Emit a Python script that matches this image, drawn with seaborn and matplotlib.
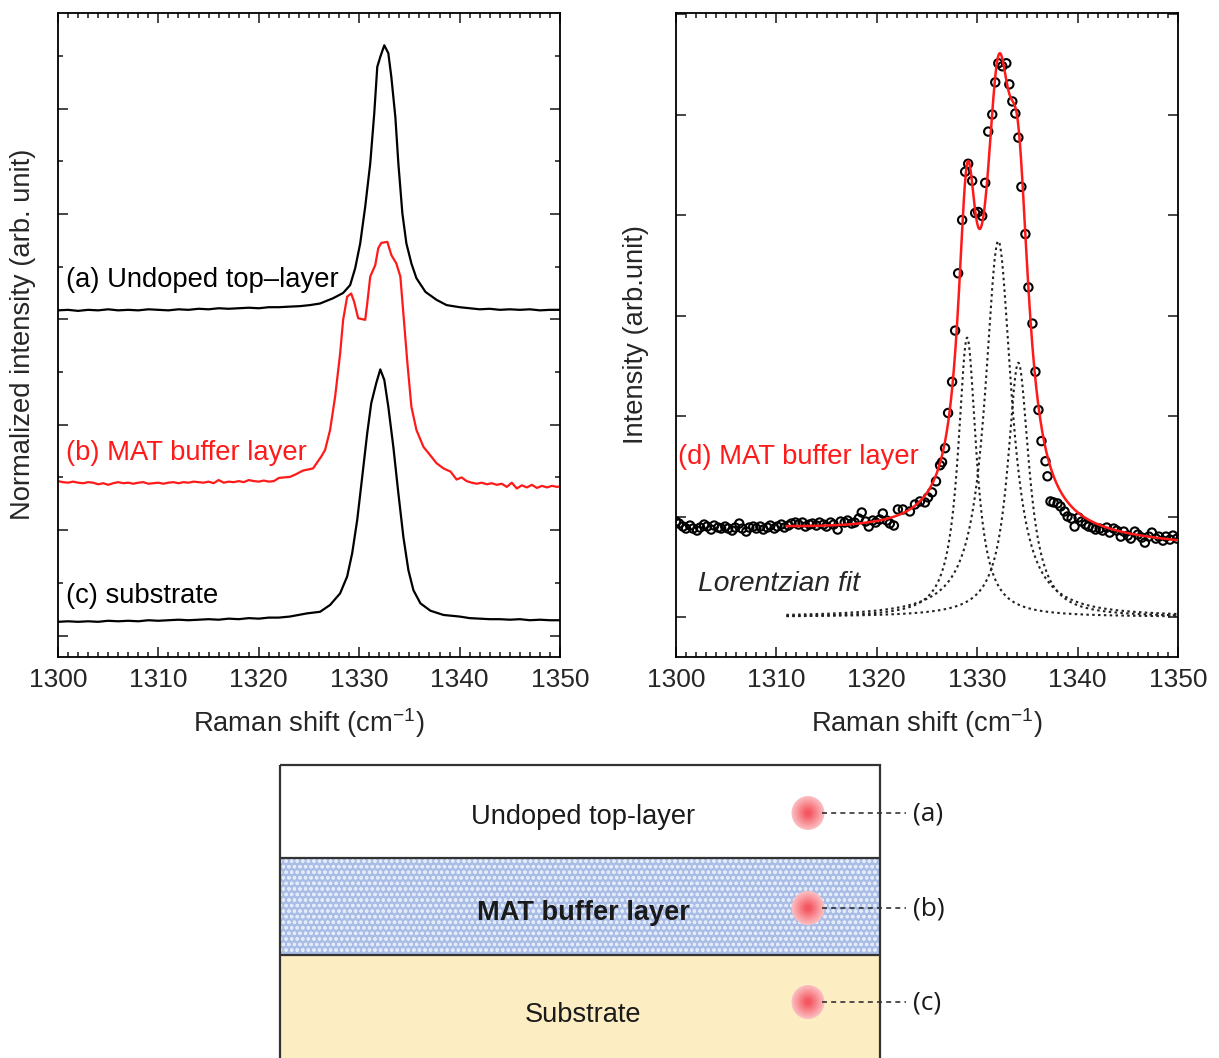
import numpy as np
import pandas as pd
import matplotlib.pyplot as plt
import matplotlib.patches as mpatches
from matplotlib.ticker import MultipleLocator, NullFormatter
import seaborn as sns

# ---- left panel: normalized spectra (a), (b), (c), offset vertically ----
a_x = [1300, 1301, 1302, 1303, 1304, 1305, 1306, 1307, 1308, 1309, 1310, 1311, 1312, 1313,
       1314, 1315, 1316, 1317, 1318, 1319, 1320, 1321, 1322, 1323, 1324.1, 1325.1, 1326.1,
       1327.4, 1328.4, 1329.1, 1329.6, 1330.1, 1330.6, 1331.1, 1331.5, 1331.8, 1332.1, 1332.5,
       1332.9, 1333.2, 1333.6, 1333.9, 1334.3, 1334.7, 1335.2, 1335.7, 1336.6, 1337.7, 1338.7,
       1340, 1341, 1342, 1343, 1344, 1345, 1346, 1347, 1348, 1349, 1350]
a_y = [6.17, 6.18, 6.16, 6.18, 6.17, 6.19, 6.17, 6.18, 6.17, 6.19, 6.18, 6.17, 6.19, 6.18,
       6.20, 6.19, 6.21, 6.20, 6.21, 6.22, 6.21, 6.23, 6.23, 6.24, 6.25, 6.27, 6.30,
       6.40, 6.50, 6.65, 6.97, 7.44, 8.14, 8.96, 9.91, 10.79, 10.98, 11.20,
       11.05, 10.60, 9.84, 8.96, 8.01, 7.44, 7.06, 6.78, 6.52, 6.37, 6.27,
       6.23, 6.21, 6.19, 6.20, 6.18, 6.19, 6.18, 6.19, 6.17, 6.18, 6.18]

b_x = [1300.0, 1300.5, 1301.0, 1301.5, 1302.0, 1302.5, 1303.0, 1303.5, 1304.0, 1304.5,
       1305.0, 1305.5, 1306.0, 1306.5, 1307.0, 1307.5, 1308.0, 1308.5, 1309.0, 1309.5,
       1310.0, 1310.5, 1311.0, 1311.5, 1312.0, 1312.5, 1313.0, 1313.5, 1314.0, 1314.5,
       1315.0, 1315.5, 1316.0, 1316.5, 1317.0, 1317.5, 1318.0, 1318.5, 1319.0, 1319.5,
       1320.0, 1320.5, 1321.0, 1321.5, 1322.0, 1322.5, 1323.1, 1323.7, 1324.4, 1325.4,
       1326.2, 1326.6, 1327.1, 1327.6, 1328.1, 1328.4, 1328.8, 1329.2, 1329.5, 1329.9,
       1330.6, 1330.8, 1331.1, 1331.6, 1331.9, 1332.2, 1332.8, 1333.2, 1333.7, 1334.1,
       1334.4, 1334.8, 1335.2, 1335.7, 1336.4, 1337.2, 1337.7, 1338.4, 1339.1, 1339.7,
       1340.2, 1340.7, 1341.2, 1341.7, 1342.2, 1342.7, 1343.2, 1343.7, 1344.2, 1344.7,
       1345.2, 1345.7, 1346.2, 1346.7, 1347.2, 1347.7, 1348.2, 1348.7, 1349.2, 1349.7, 1350.0]
b_y = [2.93, 2.91, 2.90, 2.92, 2.90, 2.89, 2.91, 2.90, 2.87, 2.89,
       2.86, 2.89, 2.91, 2.89, 2.90, 2.88, 2.90, 2.91, 2.88, 2.89,
       2.90, 2.88, 2.90, 2.91, 2.89, 2.91, 2.90, 2.92, 2.91, 2.90,
       2.92, 2.89, 2.95, 2.90, 2.92, 2.91, 2.93, 2.91, 2.95, 2.93,
       2.92, 2.94, 2.92, 2.93, 2.99, 3.00, 3.01, 3.06, 3.13, 3.17,
       3.39, 3.52, 3.90, 4.53, 5.35, 5.99, 6.43, 6.49, 6.33, 6.02,
       5.99, 6.30, 6.81, 7.03, 7.35, 7.45, 7.47, 7.22, 7.06, 6.81,
       6.11, 5.17, 4.34, 3.90, 3.58, 3.39, 3.27, 3.17, 3.11, 2.96,
       3.00, 2.93, 2.90, 2.88, 2.90, 2.87, 2.89, 2.86, 2.88, 2.82,
       2.90, 2.79, 2.85, 2.81, 2.86, 2.80, 2.84, 2.81, 2.84, 2.82, 2.83]

c_x = [1300, 1301, 1302, 1303, 1304, 1305, 1306, 1307, 1308, 1309, 1310, 1311, 1312, 1313,
       1314, 1315, 1316, 1317, 1318, 1319, 1320, 1321, 1322, 1323.1, 1324.8, 1326.1, 1327.1,
       1328.1, 1328.8, 1329.3, 1329.8, 1330.3, 1330.8, 1331.2, 1331.7, 1332.1, 1332.5, 1332.9,
       1333.4, 1333.9, 1334.4, 1334.9, 1335.4, 1336.1, 1337.1, 1338.4, 1340, 1341, 1342, 1343,
       1344, 1345, 1346, 1347, 1348, 1349, 1350]
c_y = [0.26, 0.27, 0.26, 0.27, 0.26, 0.28, 0.27, 0.28, 0.27, 0.29, 0.28, 0.29, 0.30, 0.29,
       0.30, 0.31, 0.30, 0.32, 0.31, 0.33, 0.32, 0.34, 0.34, 0.36, 0.42, 0.45, 0.58,
       0.80, 1.12, 1.56, 2.19, 3.01, 3.84, 4.41, 4.79, 5.05, 4.85, 4.34,
       3.58, 2.70, 1.87, 1.24, 0.86, 0.61, 0.47, 0.39, 0.36, 0.33, 0.32, 0.31,
       0.31, 0.30, 0.31, 0.29, 0.30, 0.29, 0.29]

# ---- right panel: measured points of the MAT buffer layer ----
d_x = [1300.0, 1300.3, 1300.7, 1301.0, 1301.4, 1301.7, 1302.1, 1302.4, 1302.8, 1303.1,
       1303.5, 1303.8, 1304.2, 1304.5, 1304.9, 1305.2, 1305.6, 1305.9, 1306.3, 1306.6,
       1307.0, 1307.3, 1307.7, 1308.0, 1308.4, 1308.7, 1309.1, 1309.4, 1309.8, 1310.1,
       1310.5, 1310.8, 1311.2, 1311.5, 1311.9, 1312.2, 1312.6, 1312.9, 1313.3, 1313.6,
       1314.0, 1314.3, 1314.7, 1315.0, 1315.4, 1315.7, 1316.1, 1316.4, 1316.8, 1317.1,
       1317.5, 1317.8, 1318.2, 1318.5, 1318.9, 1319.2, 1319.6, 1319.9, 1320.3, 1320.6,
       1321.0, 1321.3, 1321.7, 1322.1, 1322.6, 1323.3, 1323.8, 1324.3, 1324.8, 1325.1,
       1325.5, 1325.9, 1326.3, 1326.5, 1326.8, 1327.1, 1327.5, 1327.8, 1328.1, 1328.5,
       1328.8, 1329.1, 1329.5, 1329.8, 1330.1, 1330.5, 1330.8, 1331.1, 1331.5, 1331.8,
       1332.1, 1332.5, 1332.9, 1333.2, 1333.5, 1333.8, 1334.1, 1334.4, 1334.8, 1335.1,
       1335.5, 1335.8, 1336.1, 1336.4, 1336.8, 1337.0, 1337.3, 1337.6, 1338.0, 1338.3,
       1338.7, 1339.0, 1339.4, 1339.7, 1340.1, 1340.4, 1340.8, 1341.1, 1341.5, 1341.8,
       1342.2, 1342.5, 1342.9, 1343.2, 1343.6, 1343.9, 1344.3, 1344.6, 1345.0, 1345.3,
       1345.7, 1346.0, 1346.4, 1346.7, 1347.1, 1347.4, 1347.8, 1348.1, 1348.5, 1348.8,
       1349.2, 1349.5, 1349.9]
d_y = [0.95, 0.93, 0.90, 0.88, 0.91, 0.88, 0.86, 0.89, 0.92, 0.90,
       0.87, 0.91, 0.89, 0.88, 0.90, 0.88, 0.86, 0.89, 0.93, 0.88,
       0.85, 0.89, 0.90, 0.88, 0.90, 0.87, 0.89, 0.91, 0.88, 0.90,
       0.92, 0.89, 0.91, 0.93, 0.94, 0.92, 0.94, 0.90, 0.92, 0.93,
       0.91, 0.94, 0.92, 0.90, 0.94, 0.92, 0.87, 0.95, 0.94, 0.96,
       0.93, 0.94, 0.98, 1.04, 0.95, 0.90, 0.96, 0.94, 0.97, 1.03,
       0.96, 0.93, 0.91, 1.07, 1.07, 1.05, 1.12, 1.15, 1.14, 1.19,
       1.24, 1.35, 1.51, 1.54, 1.68, 2.03, 2.34, 2.85, 3.42, 3.95,
       4.43, 4.51, 4.34, 4.02, 4.03, 3.99, 4.32, 4.83, 5.00, 5.32,
       5.51, 5.48, 5.51, 5.30, 5.13, 5.01, 4.77, 4.28, 3.81, 3.28,
       2.92, 2.44, 2.06, 1.75, 1.55, 1.40, 1.15, 1.14, 1.13, 1.10,
       1.05, 1.00, 0.98, 0.90, 0.99, 0.95, 0.92, 0.90, 0.89, 0.87,
       0.88, 0.86, 0.89, 0.84, 0.88, 0.86, 0.80, 0.85, 0.81, 0.78,
       0.85, 0.82, 0.79, 0.74, 0.80, 0.84, 0.78, 0.80, 0.76, 0.80,
       0.77, 0.81, 0.78]

# Lorentzian fit parameters: centre, height, half width
lor_center = [1329.0, 1332.1, 1334.1]
lor_height = [2.78, 3.74, 2.53]
lor_hwhm = [1.1, 1.6, 1.3]
fit_baseline = [0.865, 0.71]   # linear background at 1311 and 1350
fit_range = [1311, 1350]

# ---- bottom sketch ----
layer_names = ["Undoped top-layer", "MAT buffer layer", "Substrate"]
spot_labels = ["(a)", "(b)", "(c)"]

sns.set_theme(style="ticks")
plt.rcParams["font.family"] = ["Liberation Sans", "DejaVu Sans"]
plt.rcParams["axes.linewidth"] = 1.3
plt.rcParams["mathtext.default"] = "regular"

FS = 19.7
RED = "#ff1a1a"

fig = plt.figure(figsize=(12.19, 10.58), dpi=100)
ax1 = fig.add_axes([58 / 1219, 401.4 / 1058, 502 / 1219, 644 / 1058])
ax2 = fig.add_axes([676 / 1219, 401.4 / 1058, 502 / 1219, 644 / 1058])

spectra = pd.concat([
    pd.DataFrame({"shift": a_x, "val": a_y, "s": "a"}),
    pd.DataFrame({"shift": b_x, "val": b_y, "s": "b"}),
    pd.DataFrame({"shift": c_x, "val": c_y, "s": "c"}),
])
sns.lineplot(data=spectra, x="shift", y="val", hue="s", units="s", estimator=None,
             palette={"a": "black", "b": RED, "c": "black"}, lw=1.6,
             legend=False, sort=False, ax=ax1)

ax1.set_xlim(1300, 1350)
ax1.set_ylim(-0.40, 11.82)
ax1.yaxis.set_major_locator(MultipleLocator(2))
ax1.yaxis.set_minor_locator(MultipleLocator(1))
ax1.yaxis.set_major_formatter(NullFormatter())
ax1.text(1300.8, 6.75, "(a) Undoped top\u2013layer", fontsize=FS, va="center", color="black")
ax1.text(1300.8, 3.46, "(b) MAT buffer layer", fontsize=FS, va="center", color=RED)
ax1.text(1300.8, 0.75, "(c) substrate", fontsize=FS, va="center", color="black")
ax1.set_ylabel("Normalized intensity (arb. unit)", fontsize=FS)
ax1.yaxis.set_label_coords(-0.044, 0.5)

# right panel
sns.scatterplot(x=d_x, y=d_y, marker="o", s=36, facecolor="none", edgecolor="black",
                linewidth=1.5, ax=ax2, zorder=3)
xf = np.linspace(fit_range[0], fit_range[1], 800)
comps = []
for c0, h, g in zip(lor_center, lor_height, lor_hwhm):
    comp = h * g ** 2 / ((xf - c0) ** 2 + g ** 2)
    comps.append(comp)
    sns.lineplot(x=xf, y=comp, color="#222222", lw=1.5, linestyle=(0, (1.2, 1.6)), ax=ax2)
bg = np.interp(xf, fit_range, fit_baseline)
sns.lineplot(x=xf, y=bg + np.sum(comps, axis=0), color=RED, lw=1.8, ax=ax2, zorder=4)

ax2.set_xlim(1300, 1350)
ax2.set_ylim(-0.394, 6.014)
ax2.yaxis.set_major_locator(MultipleLocator(1))
ax2.yaxis.set_major_formatter(NullFormatter())
ax2.text(1300.2, 1.59, "(d) MAT buffer layer", fontsize=FS, va="center", color=RED)
ax2.text(1302.2, 0.33, "Lorentzian fit", fontsize=20.3, va="center", style="italic")
ax2.set_ylabel("Intensity (arb.unit)", fontsize=FS)
ax2.yaxis.set_label_coords(-0.054, 0.5)

for ax in (ax1, ax2):
    ax.xaxis.set_major_locator(MultipleLocator(10))
    ax.xaxis.set_minor_locator(MultipleLocator(1))
    ax.tick_params(which="both", direction="in", top=True, right=True, width=1.2)
    ax.tick_params(which="major", length=7, labelsize=19, pad=8)
    ax.tick_params(which="minor", length=3.5)
    ax.set_xlabel("Raman shift (cm$^{\u22121}$)", fontsize=FS)
    ax.xaxis.set_label_coords(0.5, -0.077)
    for sp in ax.spines.values():
        sp.set_color("black")

# ---- bottom layer sketch, drawn in pixel coordinates ----
ax3 = fig.add_axes([0, 0, 1, 300 / 1058])
ax3.set_xlim(0, 1219)
ax3.set_ylim(1058, 758)
ax3.axis("off")

plt.rcParams["hatch.linewidth"] = 0.9
ax3.add_patch(mpatches.Rectangle((280, 765), 600, 93, facecolor="white", edgecolor="none"))
ax3.add_patch(mpatches.Rectangle((280, 858), 600, 97, facecolor="#a9bde6", edgecolor="none"))
ax3.add_patch(mpatches.Rectangle((280, 858), 600, 97, facecolor="none", edgecolor="#e4ebf8",
                                 hatch="ooo", lw=0))
ax3.add_patch(mpatches.Rectangle((280, 955), 600, 110, facecolor="#fdedc3", edgecolor="none"))
ax3.add_patch(mpatches.Rectangle((280, 765), 600, 300, facecolor="none",
                                 edgecolor="#333333", lw=1.6, clip_on=False))
ax3.plot([280, 880], [858, 858], color="#333333", lw=1.6)
ax3.plot([280, 880], [955, 955], color="#333333", lw=1.6)

layer_y = [817, 913, 1015]
spot_y = [813, 908, 1002]
for name, ly, weight in zip(layer_names, layer_y, ["normal", "bold", "normal"]):
    ax3.text(583, ly, name, fontsize=19.6, ha="center", va="center", weight=weight,
             color="#1a1a1a")

for lab, sy in zip(spot_labels, spot_y):
    ax3.plot([822, 906], [sy, sy], color="#333333", lw=1.2, linestyle=(0, (3, 2.5)))
    ax3.text(913, sy + 1, lab, fontsize=19, ha="left", va="center",
             family=["Open Sans", "DejaVu Sans"], color="#1a1a1a")
    # soft pink spot: stacked discs from pale edge to red core
    for i, r in enumerate(np.linspace(17, 3, 12)):
        t = i / 11
        col = (0.985 - 0.03 * t, 0.74 - 0.40 * t, 0.75 - 0.37 * t)
        ax3.add_patch(mpatches.Ellipse((808, sy), 2 * r * 0.97, 2 * r, facecolor=col,
                                       edgecolor="none"))

fig.savefig("out.png", dpi=100)
